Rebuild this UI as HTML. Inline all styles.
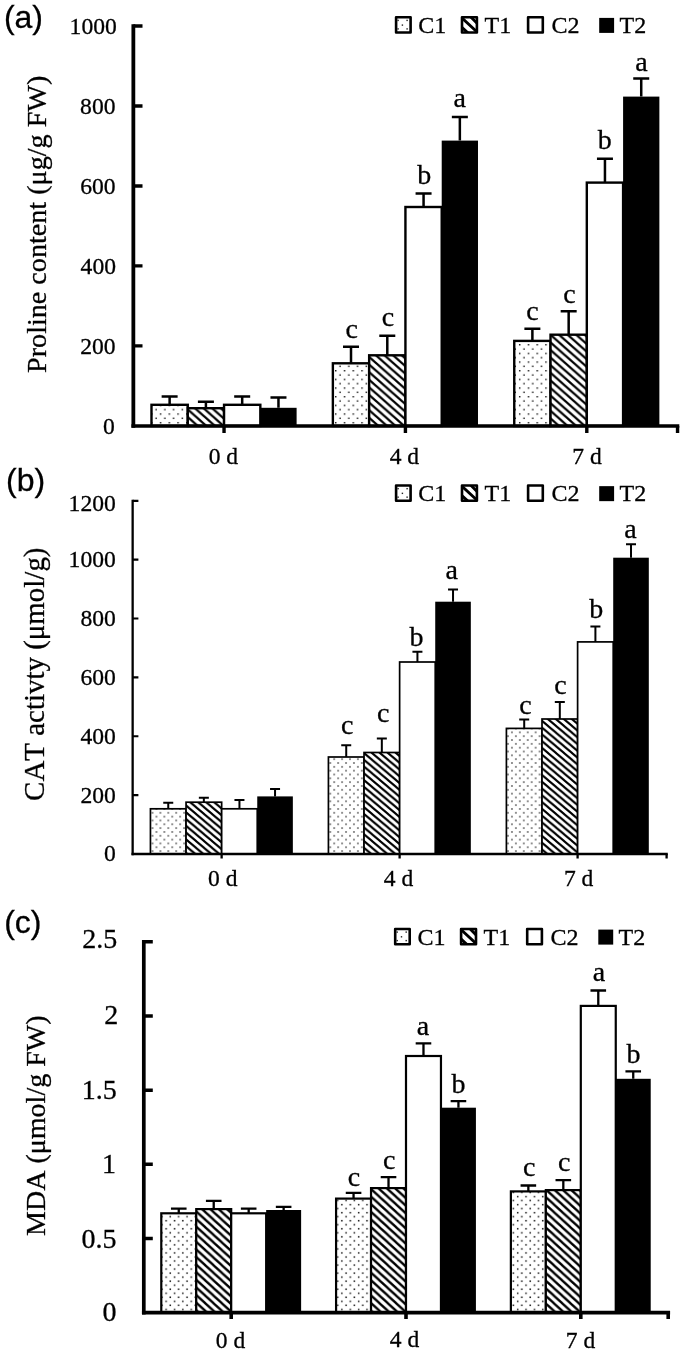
<!DOCTYPE html>
<html lang="en">
<head>
<meta charset="utf-8">
<title>Figure</title>
<style>
html,body{margin:0;padding:0;background:#fff;}
svg{display:block;}
.s{font-family:'Liberation Serif', 'Times New Roman', serif;fill:#000;stroke:#000;stroke-width:0.3px;}
.h{font-family:'Liberation Sans', Arial, sans-serif;fill:#000;stroke:#000;stroke-width:0.3px;}
</style>
</head>
<body>
<svg width="685" height="1354" viewBox="0 0 685 1354">
<rect x="0" y="0" width="685" height="1354" fill="#fff"/>
<defs>
<pattern id="dota" patternUnits="userSpaceOnUse" x="337.91" y="364.23" width="8.76" height="8.66"><rect width="8.76" height="8.66" fill="#fff"/><rect x="1.46" y="1.44" width="1.45" height="1.45" fill="#1a1a1a"/><rect x="5.85" y="5.77" width="1.45" height="1.45" fill="#1a1a1a"/></pattern>
<pattern id="hata" patternUnits="userSpaceOnUse" x="333" y="363" width="8.6" height="7.6"><rect width="8.6" height="7.6" fill="#fff"/><path d="M-8.6,-7.6L17.2,15.2M0,-7.6L17.2,7.6M-8.6,0L8.6,15.2" stroke="#000" stroke-width="2.25" fill="none"/></pattern>
<pattern id="dotb" patternUnits="userSpaceOnUse" x="158.43" y="810.88" width="7.9" height="7.66"><rect width="7.9" height="7.66" fill="#fff"/><rect x="1.3" y="1.24" width="1.35" height="1.35" fill="#1a1a1a"/><rect x="5.25" y="5.07" width="1.35" height="1.35" fill="#1a1a1a"/></pattern>
<pattern id="hatb" patternUnits="userSpaceOnUse" x="364" y="753" width="8" height="6.77"><rect width="8" height="6.77" fill="#fff"/><path d="M-8,-6.77L16,13.54M0,-6.77L16,6.77M-8,0L8,13.54" stroke="#000" stroke-width="2.1" fill="none"/></pattern>
<pattern id="dotc" patternUnits="userSpaceOnUse" x="168.21" y="1214.68" width="8.37" height="8.06"><rect width="8.37" height="8.06" fill="#fff"/><rect x="1.34" y="1.27" width="1.5" height="1.5" fill="#1a1a1a"/><rect x="5.53" y="5.29" width="1.5" height="1.5" fill="#1a1a1a"/></pattern>
<pattern id="hatc" patternUnits="userSpaceOnUse" x="371" y="1189" width="8.3" height="7.6"><rect width="8.3" height="7.6" fill="#fff"/><path d="M-8.3,-7.6L16.6,15.2M0,-7.6L16.6,7.6M-8.3,0L8.3,15.2" stroke="#000" stroke-width="2.3" fill="none"/></pattern>
</defs>
<g id="panel-a">
<text class="h" x="3.9" y="28.3" font-size="32">(a)</text>
<text class="s" transform="translate(45.9,224.35) rotate(-90)" text-anchor="middle" font-size="28.15" style="font-kerning:none">Proline content (μg/g FW)</text>
<text class="s" x="114.9" y="433.85" text-anchor="end" font-size="23.6">0</text>
<text class="s" x="115.6" y="353.96" text-anchor="end" font-size="23.6">200</text>
<text class="s" x="116" y="273.97" text-anchor="end" font-size="23.6">400</text>
<text class="s" x="115.6" y="193.88" text-anchor="end" font-size="23.6">600</text>
<text class="s" x="115.5" y="113.79" text-anchor="end" font-size="23.6">800</text>
<text class="s" x="116.8" y="33.9" text-anchor="end" font-size="23.6">1000</text>
<text class="s" x="223.4" y="463.7" text-anchor="middle" font-size="23.5">0 d</text>
<text class="s" x="404.4" y="463.7" text-anchor="middle" font-size="23.5">4 d</text>
<text class="s" x="587" y="463.7" text-anchor="middle" font-size="23.5">7 d</text>
<path d="M169.63,404.8V396.6M161.63,396.6H177.63" stroke="#000" stroke-width="2.5" fill="none"/>
<rect x="151.49" y="404.8" width="36.28" height="21.15" fill="url(#dota)" stroke="#000" stroke-width="2.4"/>
<path d="M205.91,408.2V401.8M197.91,401.8H213.91" stroke="#000" stroke-width="2.5" fill="none"/>
<rect x="187.77" y="408.2" width="36.28" height="17.75" fill="url(#hata)" stroke="#000" stroke-width="2.4"/>
<path d="M242.19,404.8V396.6M234.19,396.6H250.19" stroke="#000" stroke-width="2.5" fill="none"/>
<rect x="224.05" y="404.8" width="36.28" height="21.15" fill="#fff" stroke="#000" stroke-width="2.4"/>
<path d="M278.47,407.8V397.4M270.47,397.4H286.47" stroke="#000" stroke-width="2.5" fill="none"/>
<rect x="260.33" y="407.8" width="36.28" height="18.15" fill="#000"/>
<path d="M351.01,363.3V346.7M343.01,346.7H359.01" stroke="#000" stroke-width="2.5" fill="none"/>
<rect x="332.87" y="363.3" width="36.28" height="62.65" fill="url(#dota)" stroke="#000" stroke-width="2.4"/>
<path d="M387.29,355.3V335.7M379.29,335.7H395.29" stroke="#000" stroke-width="2.5" fill="none"/>
<rect x="369.15" y="355.3" width="36.28" height="70.65" fill="url(#hata)" stroke="#000" stroke-width="2.4"/>
<path d="M423.57,207V193.5M415.57,193.5H431.57" stroke="#000" stroke-width="2.5" fill="none"/>
<rect x="405.43" y="207" width="36.28" height="218.95" fill="#fff" stroke="#000" stroke-width="2.4"/>
<path d="M459.85,140.6V117M451.85,117H467.85" stroke="#000" stroke-width="2.5" fill="none"/>
<rect x="441.71" y="140.6" width="36.28" height="285.35" fill="#000"/>
<path d="M532.39,340.9V328.7M524.39,328.7H540.39" stroke="#000" stroke-width="2.5" fill="none"/>
<rect x="514.25" y="340.9" width="36.28" height="85.05" fill="url(#dota)" stroke="#000" stroke-width="2.4"/>
<path d="M568.67,334.7V311.2M560.67,311.2H576.67" stroke="#000" stroke-width="2.5" fill="none"/>
<rect x="550.53" y="334.7" width="36.28" height="91.25" fill="url(#hata)" stroke="#000" stroke-width="2.4"/>
<path d="M604.95,182.6V158.8M596.95,158.8H612.95" stroke="#000" stroke-width="2.5" fill="none"/>
<rect x="586.81" y="182.6" width="36.28" height="243.35" fill="#fff" stroke="#000" stroke-width="2.4"/>
<path d="M641.23,96.6V78.6M633.23,78.6H649.23" stroke="#000" stroke-width="2.5" fill="none"/>
<rect x="623.09" y="96.6" width="36.28" height="329.35" fill="#000"/>
<text class="s" x="351.8" y="338" text-anchor="middle" font-size="28">c</text>
<text class="s" x="388" y="325.7" text-anchor="middle" font-size="28">c</text>
<text class="s" x="424.3" y="183.5" text-anchor="middle" font-size="28">b</text>
<text class="s" x="459.7" y="107.3" text-anchor="middle" font-size="28">a</text>
<text class="s" x="532.4" y="319.8" text-anchor="middle" font-size="28">c</text>
<text class="s" x="569.4" y="302.5" text-anchor="middle" font-size="28">c</text>
<text class="s" x="604.7" y="148.8" text-anchor="middle" font-size="28">b</text>
<text class="s" x="641.4" y="71" text-anchor="middle" font-size="28">a</text>
<path d="M133.35,24.35V427.65" stroke="#000" stroke-width="3.8" fill="none"/>
<path d="M131.45,425.95H679.3" stroke="#000" stroke-width="3.4" fill="none"/>
<path d="M133.35,345.96H142.5M133.35,265.97H142.5M133.35,185.98H142.5M133.35,105.99H142.5M133.35,26H142.5" stroke="#000" stroke-width="3.3" fill="none"/>
<path d="M224.04,425.95V432.9M405.42,425.95V432.9M586.8,425.95V432.9M677.55,425.95V432.9" stroke="#000" stroke-width="3.4" fill="none"/>
<rect x="396.1" y="17.3" width="14.5" height="15.2" fill="#fff" stroke="#000" stroke-width="2.6" stroke-linejoin="round"/>
<rect x="397.4" y="19.7" width="1.4" height="1.4" fill="#222"/>
<rect x="406.4" y="19.7" width="1.4" height="1.4" fill="#222"/>
<rect x="401.7" y="24.4" width="1.4" height="1.4" fill="#222"/>
<rect x="397.4" y="28.2" width="1.4" height="1.4" fill="#222"/>
<rect x="406.4" y="28.2" width="1.4" height="1.4" fill="#222"/>
<text class="s" x="418.3" y="33" font-size="24">C1</text>
<rect x="462" y="17.3" width="14.9" height="15.2" fill="#fff" stroke="#000" stroke-width="2.6" stroke-linejoin="round"/>
<clipPath id="lca"><rect x="462" y="17.3" width="14.9" height="15.2"/></clipPath>
<g clip-path="url(#lca)" stroke="#000" stroke-width="2.9" fill="none"><path d="M458.7,15L480.2,34.8M468.9,15L488.4,34.8M448.5,15L470,34.8"/></g>
<text class="s" x="484.5" y="33" font-size="24">T1</text>
<rect x="528.1" y="17.3" width="14.7" height="15.2" fill="#fff" stroke="#000" stroke-width="2.6" stroke-linejoin="round"/>
<text class="s" x="551.4" y="33" font-size="24">C2</text>
<rect x="599.2" y="17.9" width="14.9" height="15" fill="#000"/>
<text class="s" x="619.5" y="33" font-size="24">T2</text>
</g>
<g id="panel-b">
<text class="h" x="6" y="491.2" font-size="32">(b)</text>
<text class="s" transform="translate(43.5,674.2) rotate(-90)" text-anchor="middle" font-size="28.95" style="font-kerning:none">CAT activty (μmol/g)</text>
<text class="s" x="115.8" y="861.15" text-anchor="end" font-size="23.6">0</text>
<text class="s" x="115.8" y="802.59" text-anchor="end" font-size="23.6">200</text>
<text class="s" x="115.8" y="743.63" text-anchor="end" font-size="23.6">400</text>
<text class="s" x="115.8" y="684.77" text-anchor="end" font-size="23.6">600</text>
<text class="s" x="115.8" y="625.71" text-anchor="end" font-size="23.6">800</text>
<text class="s" x="115.8" y="566.85" text-anchor="end" font-size="23.6">1000</text>
<text class="s" x="115.8" y="511.29" text-anchor="end" font-size="23.6">1200</text>
<text class="s" x="222.7" y="885.9" text-anchor="middle" font-size="23.5">0 d</text>
<text class="s" x="398.5" y="885.9" text-anchor="middle" font-size="23.5">4 d</text>
<text class="s" x="578.6" y="885.9" text-anchor="middle" font-size="23.5">7 d</text>
<path d="M168.25,808.8V802.7M163.25,802.7H173.25" stroke="#000" stroke-width="2" fill="none"/>
<rect x="150.45" y="808.8" width="35.6" height="45.15" fill="url(#dotb)" stroke="#000" stroke-width="1.7"/>
<path d="M203.85,802.2V797.7M198.85,797.7H208.85" stroke="#000" stroke-width="2" fill="none"/>
<rect x="186.05" y="802.2" width="35.6" height="51.75" fill="url(#hatb)" stroke="#000" stroke-width="1.7"/>
<path d="M239.45,808.8V800M234.45,800H244.45" stroke="#000" stroke-width="2" fill="none"/>
<rect x="221.65" y="808.8" width="35.6" height="45.15" fill="#fff" stroke="#000" stroke-width="1.7"/>
<path d="M275.05,796.4V788.9M270.05,788.9H280.05" stroke="#000" stroke-width="2" fill="none"/>
<rect x="257.25" y="796.4" width="35.6" height="57.55" fill="#000"/>
<path d="M346.23,757V745.2M341.23,745.2H351.23" stroke="#000" stroke-width="2" fill="none"/>
<rect x="328.43" y="757" width="35.6" height="96.95" fill="url(#dotb)" stroke="#000" stroke-width="1.7"/>
<path d="M381.83,752.5V738.6M376.83,738.6H386.83" stroke="#000" stroke-width="2" fill="none"/>
<rect x="364.03" y="752.5" width="35.6" height="101.45" fill="url(#hatb)" stroke="#000" stroke-width="1.7"/>
<path d="M417.43,662V651.7M412.43,651.7H422.43" stroke="#000" stroke-width="2" fill="none"/>
<rect x="399.63" y="662" width="35.6" height="191.95" fill="#fff" stroke="#000" stroke-width="1.7"/>
<path d="M453.03,601.7V589.4M448.03,589.4H458.03" stroke="#000" stroke-width="2" fill="none"/>
<rect x="435.23" y="601.7" width="35.6" height="252.25" fill="#000"/>
<path d="M524.21,728.4V719.6M519.21,719.6H529.21" stroke="#000" stroke-width="2" fill="none"/>
<rect x="506.41" y="728.4" width="35.6" height="125.55" fill="url(#dotb)" stroke="#000" stroke-width="1.7"/>
<path d="M559.81,719V702M554.81,702H564.81" stroke="#000" stroke-width="2" fill="none"/>
<rect x="542.01" y="719" width="35.6" height="134.95" fill="url(#hatb)" stroke="#000" stroke-width="1.7"/>
<path d="M595.41,641.9V626.5M590.41,626.5H600.41" stroke="#000" stroke-width="2" fill="none"/>
<rect x="577.61" y="641.9" width="35.6" height="212.05" fill="#fff" stroke="#000" stroke-width="1.7"/>
<path d="M631.01,557.7V544.2M626.01,544.2H636.01" stroke="#000" stroke-width="2" fill="none"/>
<rect x="613.21" y="557.7" width="35.6" height="296.25" fill="#000"/>
<text class="s" x="347.2" y="734.4" text-anchor="middle" font-size="28">c</text>
<text class="s" x="383.3" y="721.5" text-anchor="middle" font-size="28">c</text>
<text class="s" x="416.5" y="645.9" text-anchor="middle" font-size="28">b</text>
<text class="s" x="451.8" y="579.4" text-anchor="middle" font-size="28">a</text>
<text class="s" x="525.5" y="713.9" text-anchor="middle" font-size="28">c</text>
<text class="s" x="560.4" y="693.7" text-anchor="middle" font-size="28">c</text>
<text class="s" x="596.2" y="617.6" text-anchor="middle" font-size="28">b</text>
<text class="s" x="630.4" y="538.2" text-anchor="middle" font-size="28">a</text>
<path d="M132.65,499.69V855.15" stroke="#000" stroke-width="2.3" fill="none"/>
<path d="M131.5,853.95H667.8" stroke="#000" stroke-width="2.4" fill="none"/>
<path d="M132.65,795.09H138.4M132.65,736.23H138.4M132.65,677.37H138.4M132.65,618.51H138.4M132.65,559.65H138.4M132.65,500.79H138.4" stroke="#000" stroke-width="2.2" fill="none"/>
<path d="M221.64,853.95V858.4M399.62,853.95V858.4M577.6,853.95V858.4M666.6,853.95V858.4" stroke="#000" stroke-width="2.3" fill="none"/>
<rect x="396.1" y="485.55" width="14.5" height="15.2" fill="#fff" stroke="#000" stroke-width="2.6" stroke-linejoin="round"/>
<rect x="397.4" y="487.95" width="1.4" height="1.4" fill="#222"/>
<rect x="406.4" y="487.95" width="1.4" height="1.4" fill="#222"/>
<rect x="401.7" y="492.65" width="1.4" height="1.4" fill="#222"/>
<rect x="397.4" y="496.45" width="1.4" height="1.4" fill="#222"/>
<rect x="406.4" y="496.45" width="1.4" height="1.4" fill="#222"/>
<text class="s" x="418.3" y="501.25" font-size="24">C1</text>
<rect x="462" y="485.55" width="14.9" height="15.2" fill="#fff" stroke="#000" stroke-width="2.6" stroke-linejoin="round"/>
<clipPath id="lcb"><rect x="462" y="485.55" width="14.9" height="15.2"/></clipPath>
<g clip-path="url(#lcb)" stroke="#000" stroke-width="2.9" fill="none"><path d="M458.7,483.25L480.2,503.05M468.9,483.25L488.4,503.05M448.5,483.25L470,503.05"/></g>
<text class="s" x="484.5" y="501.25" font-size="24">T1</text>
<rect x="528.1" y="485.55" width="14.7" height="15.2" fill="#fff" stroke="#000" stroke-width="2.6" stroke-linejoin="round"/>
<text class="s" x="551.4" y="501.25" font-size="24">C2</text>
<rect x="599.2" y="486.15" width="14.9" height="15" fill="#000"/>
<text class="s" x="619.5" y="501.25" font-size="24">T2</text>
</g>
<g id="panel-c">
<text class="h" x="4.2" y="933.2" font-size="32">(c)</text>
<text class="s" transform="translate(45,1125.7) rotate(-90)" text-anchor="middle" font-size="28.05" style="font-kerning:none">MDA (μmol/g FW)</text>
<text class="s" x="116.6" y="1321.3" text-anchor="end" font-size="28">0</text>
<text class="s" x="116.6" y="1247.52" text-anchor="end" font-size="28">0.5</text>
<text class="s" x="116" y="1172.94" text-anchor="end" font-size="28">1</text>
<text class="s" x="116.8" y="1098.76" text-anchor="end" font-size="28">1.5</text>
<text class="s" x="118.2" y="1024.28" text-anchor="end" font-size="28">2</text>
<text class="s" x="117.2" y="948.2" text-anchor="end" font-size="28">2.5</text>
<text class="s" x="230.5" y="1348.1" text-anchor="middle" font-size="23.5">0 d</text>
<text class="s" x="404.5" y="1347.3" text-anchor="middle" font-size="23.5">4 d</text>
<text class="s" x="580.5" y="1348.1" text-anchor="middle" font-size="23.5">7 d</text>
<path d="M178.76,1213.3V1208.6M170.96,1208.6H186.56" stroke="#000" stroke-width="2.3" fill="none"/>
<rect x="161.28" y="1213.3" width="34.96" height="99.4" fill="url(#dotc)" stroke="#000" stroke-width="2.2"/>
<path d="M213.72,1209.1V1200.8M205.92,1200.8H221.52" stroke="#000" stroke-width="2.3" fill="none"/>
<rect x="196.24" y="1209.1" width="34.96" height="103.6" fill="url(#hatc)" stroke="#000" stroke-width="2.2"/>
<path d="M248.68,1213.3V1208.6M240.88,1208.6H256.48" stroke="#000" stroke-width="2.3" fill="none"/>
<rect x="231.2" y="1213.3" width="34.96" height="99.4" fill="#fff" stroke="#000" stroke-width="2.2"/>
<path d="M283.64,1210V1206.9M275.84,1206.9H291.44" stroke="#000" stroke-width="2.3" fill="none"/>
<rect x="266.16" y="1210" width="34.96" height="102.7" fill="#000"/>
<path d="M353.56,1198.6V1192.8M345.76,1192.8H361.36" stroke="#000" stroke-width="2.3" fill="none"/>
<rect x="336.08" y="1198.6" width="34.96" height="114.1" fill="url(#dotc)" stroke="#000" stroke-width="2.2"/>
<path d="M388.52,1188.1V1177.1M380.72,1177.1H396.32" stroke="#000" stroke-width="2.3" fill="none"/>
<rect x="371.04" y="1188.1" width="34.96" height="124.6" fill="url(#hatc)" stroke="#000" stroke-width="2.2"/>
<path d="M423.48,1056V1043.4M415.68,1043.4H431.28" stroke="#000" stroke-width="2.3" fill="none"/>
<rect x="406" y="1056" width="34.96" height="256.7" fill="#fff" stroke="#000" stroke-width="2.2"/>
<path d="M458.44,1107.7V1101.2M450.64,1101.2H466.24" stroke="#000" stroke-width="2.3" fill="none"/>
<rect x="440.96" y="1107.7" width="34.96" height="205" fill="#000"/>
<path d="M528.36,1191.4V1185.5M520.56,1185.5H536.16" stroke="#000" stroke-width="2.3" fill="none"/>
<rect x="510.88" y="1191.4" width="34.96" height="121.3" fill="url(#dotc)" stroke="#000" stroke-width="2.2"/>
<path d="M563.32,1190.1V1180.1M555.52,1180.1H571.12" stroke="#000" stroke-width="2.3" fill="none"/>
<rect x="545.84" y="1190.1" width="34.96" height="122.6" fill="url(#hatc)" stroke="#000" stroke-width="2.2"/>
<path d="M598.28,1005.9V990.5M590.48,990.5H606.08" stroke="#000" stroke-width="2.3" fill="none"/>
<rect x="580.8" y="1005.9" width="34.96" height="306.8" fill="#fff" stroke="#000" stroke-width="2.2"/>
<path d="M633.24,1078.8V1071.3M625.44,1071.3H641.04" stroke="#000" stroke-width="2.3" fill="none"/>
<rect x="615.76" y="1078.8" width="34.96" height="233.9" fill="#000"/>
<text class="s" x="353.9" y="1185.5" text-anchor="middle" font-size="28">c</text>
<text class="s" x="389.3" y="1169.3" text-anchor="middle" font-size="28">c</text>
<text class="s" x="422.9" y="1034.9" text-anchor="middle" font-size="28">a</text>
<text class="s" x="458.4" y="1093.3" text-anchor="middle" font-size="28">b</text>
<text class="s" x="529.2" y="1176" text-anchor="middle" font-size="28">c</text>
<text class="s" x="564.2" y="1171.2" text-anchor="middle" font-size="28">c</text>
<text class="s" x="598.9" y="981.1" text-anchor="middle" font-size="28">a</text>
<text class="s" x="633.4" y="1062.6" text-anchor="middle" font-size="28">b</text>
<path d="M143.8,940.05V1314.55" stroke="#000" stroke-width="3.7" fill="none"/>
<path d="M141.95,1312.7H670.1" stroke="#000" stroke-width="3.7" fill="none"/>
<path d="M143.8,1238.52H152.8M143.8,1164.34H152.8M143.8,1090.16H152.8M143.8,1015.98H152.8M143.8,941.8H152.8" stroke="#000" stroke-width="3.5" fill="none"/>
<path d="M231.2,1312.7V1319M406,1312.7V1319M580.8,1312.7V1319M668.2,1312.7V1319" stroke="#000" stroke-width="3.6" fill="none"/>
<rect x="395.2" y="929" width="14.5" height="15.2" fill="#fff" stroke="#000" stroke-width="2.6" stroke-linejoin="round"/>
<rect x="396.5" y="931.4" width="1.4" height="1.4" fill="#222"/>
<rect x="405.5" y="931.4" width="1.4" height="1.4" fill="#222"/>
<rect x="400.8" y="936.1" width="1.4" height="1.4" fill="#222"/>
<rect x="396.5" y="939.9" width="1.4" height="1.4" fill="#222"/>
<rect x="405.5" y="939.9" width="1.4" height="1.4" fill="#222"/>
<text class="s" x="417.4" y="944.7" font-size="24">C1</text>
<rect x="461.1" y="929" width="14.9" height="15.2" fill="#fff" stroke="#000" stroke-width="2.6" stroke-linejoin="round"/>
<clipPath id="lcc"><rect x="461.1" y="929" width="14.9" height="15.2"/></clipPath>
<g clip-path="url(#lcc)" stroke="#000" stroke-width="2.9" fill="none"><path d="M457.8,926.7L479.3,946.5M468,926.7L487.5,946.5M447.6,926.7L469.1,946.5"/></g>
<text class="s" x="483.6" y="944.7" font-size="24">T1</text>
<rect x="527.2" y="929" width="14.7" height="15.2" fill="#fff" stroke="#000" stroke-width="2.6" stroke-linejoin="round"/>
<text class="s" x="550.5" y="944.7" font-size="24">C2</text>
<rect x="598.3" y="929.6" width="14.9" height="15" fill="#000"/>
<text class="s" x="618.6" y="944.7" font-size="24">T2</text>
</g>
</svg>
</body>
</html>
